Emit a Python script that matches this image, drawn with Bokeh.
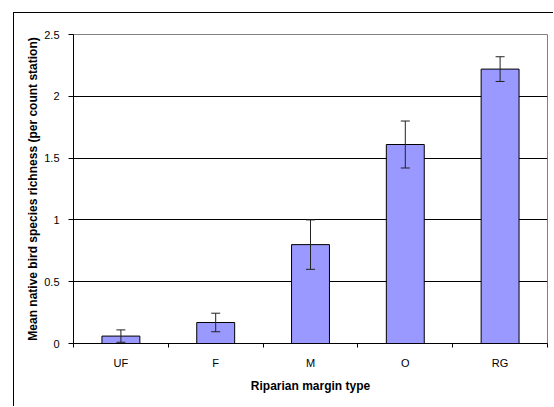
from bokeh.plotting import figure
from bokeh.models import Range1d, FixedTicker, ColumnDataSource, Whisker, TeeHead
from bokeh.embed import file_html
from bokeh.resources import INLINE

categories = ["UF", "F", "M", "O", "RG"]
means = [0.06, 0.17, 0.80, 1.61, 2.22]
errors = [0.05, 0.075, 0.20, 0.19, 0.10]
y_ticks = [0, 0.5, 1, 1.5, 2, 2.5]
y_tick_labels = ["0", "0.5", "1", "1.5", "2", "2.5"]

xs = [i + 0.5 for i in range(len(categories))]
src = ColumnDataSource(dict(
    x=xs, top=means,
    upper=[m + e for m, e in zip(means, errors)],
    lower=[m - e for m, e in zip(means, errors)],
))

FONT = "Liberation Sans"

p = figure(width=540, height=394, output_backend="svg", toolbar_location=None,
           x_range=Range1d(0, len(categories)), y_range=Range1d(0, 2.5),
           min_border_left=59, min_border_top=21, min_border_right=7,
           min_border_bottom=64)
p.styles = {"margin-left": "13px", "margin-top": "12px",
            "border-left": "1px solid black", "border-top": "1px solid black",
            "border-right": "none", "border-bottom": "none"}

p.background_fill_color = "white"
p.border_fill_color = "white"
p.outline_line_color = "#808080"
p.outline_line_width = 1

p.vbar(x="x", top="top", width=0.4, bottom=0, source=src,
       fill_color="#9999FF", line_color="black", line_width=1)

w = Whisker(source=src, base="x", upper="upper", lower="lower",
            line_color="#222222", line_width=1, level="overlay",
            upper_head=TeeHead(size=9, line_color="#222222", line_width=1),
            lower_head=TeeHead(size=9, line_color="#222222", line_width=1))
p.add_layout(w)

# x axis
p.xaxis.ticker = FixedTicker(ticks=xs, minor_ticks=list(range(len(categories) + 1)))
p.xaxis.major_label_overrides = {x: c for x, c in zip(xs, categories)}
p.xaxis.major_tick_out = 0
p.xaxis.major_tick_in = 0
p.xaxis.minor_tick_out = 4
p.xaxis.minor_tick_in = 0
p.xaxis.minor_tick_line_color = "black"
p.xaxis.axis_line_color = "black"
p.xaxis.major_label_standoff = 9
p.xaxis.axis_label = "Riparian margin type"
p.xaxis.axis_label_standoff = 7

# y axis
p.yaxis.ticker = FixedTicker(ticks=y_ticks, minor_ticks=[])
p.yaxis.major_label_overrides = {t: l for t, l in zip(y_ticks, y_tick_labels)}
p.yaxis.major_tick_out = 5
p.yaxis.major_tick_in = 0
p.yaxis.major_tick_line_color = "black"
p.yaxis.axis_line_color = "black"
p.yaxis.major_label_standoff = 9
p.yaxis.axis_label = "Mean native bird species richness (per count station)"
p.yaxis.axis_label_standoff = 1

for ax in (p.xaxis, p.yaxis):
    ax.major_label_text_font = FONT
    ax.major_label_text_font_size = "11px"
    ax.major_label_text_color = "black"
    ax.axis_label_text_font = FONT
    ax.axis_label_text_font_size = "12px"
    ax.axis_label_text_font_style = "bold"
    ax.axis_label_text_color = "black"

p.xgrid.visible = False
p.ygrid.ticker = FixedTicker(ticks=[0.5, 1, 1.5, 2])
p.ygrid.grid_line_color = "black"
p.ygrid.grid_line_width = 1

open("out.html", "w").write(file_html(p, INLINE))
